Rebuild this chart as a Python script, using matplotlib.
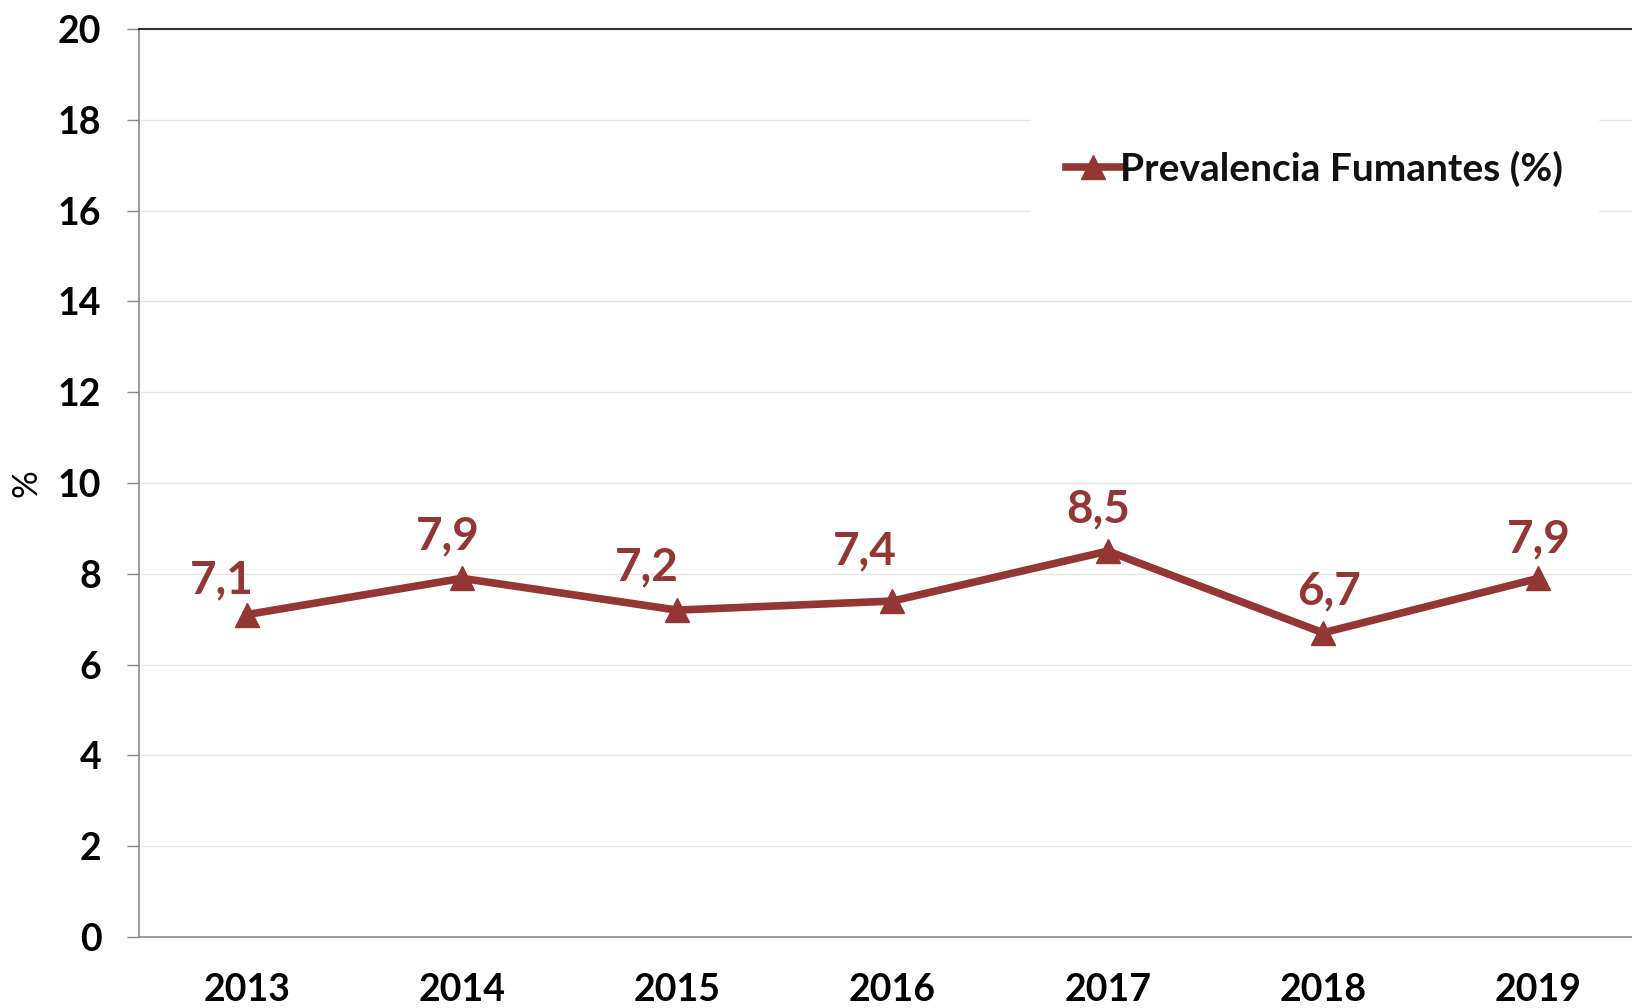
import matplotlib
matplotlib.use("Agg")
from matplotlib import pyplot as plt

years = ['2013', '2014', '2015', '2016', '2017', '2018', '2019']
prevalence = [7.1, 7.9, 7.2, 7.4, 8.5, 6.7, 7.9]
yticks = [0, 2, 4, 6, 8, 10, 12, 14, 16, 18, 20]

# label nudges in points (dx, dy), hand-placed like the original
label_offsets = [(-18, 25), (-10, 30), (-22, 31), (-20, 36), (-7, 30), (4, 30), (0, 28)]

red = '#943634'
plt.rcParams['font.family'] = ['Lato', 'DejaVu Sans']

fig = plt.figure(figsize=(16.33, 10.08), dpi=100)
ax = fig.add_axes([139 / 1633, 71 / 1008, 1507 / 1633, 908 / 1008])

x = list(range(len(years)))
ax.plot(x, prevalence, color=red, linewidth=5.5, marker='^', markersize=17,
        markeredgecolor=red, label='Prevalencia Fumantes (%)', zorder=3)

for xi, v, (dx, dy) in zip(x, prevalence, label_offsets):
    ax.annotate(f'{v:.1f}'.replace('.', ','), (xi, v), xytext=(dx, dy),
                textcoords='offset points', ha='center', va='center',
                color=red, fontsize=33, fontweight='bold')

ax.set_xlim(-0.5, 6.5)
ax.set_ylim(0, 20)
ax.set_xticks(x)
ax.set_xticklabels(years)
ax.set_yticks(yticks)
ax.tick_params(axis='x', length=0, pad=26, labelsize=27)
ax.tick_params(axis='y', length=9, width=1, color='#888888', pad=18, labelsize=27)
for lab in ax.get_xticklabels() + ax.get_yticklabels():
    lab.set_fontweight('bold')

ax.grid(axis='y', color='#e6e6e6', linewidth=1)
ax.set_axisbelow(True)
for side in ['left', 'bottom']:
    ax.spines[side].set_color('#8c8c8c')
    ax.spines[side].set_linewidth(1.2)
ax.spines['top'].set_color('#333333')
ax.spines['top'].set_linewidth(1.5)
ax.spines['right'].set_visible(False)

ax.set_ylabel('%', fontsize=25)
ax.yaxis.set_label_coords(-0.064, 0.5)

leg = ax.legend(loc='center', bbox_to_anchor=(0.78, 0.846),
                frameon=True, handlelength=1.4, handletextpad=0.0,
                borderpad=0.9, prop={'weight': 'bold', 'size': 28})
leg.get_frame().set_edgecolor('white')
leg.get_frame().set_facecolor('white')
leg.get_frame().set_alpha(1)
leg.get_frame().set_boxstyle('square', pad=0)
for t in leg.get_texts():
    t.set_color('#111111')

fig.savefig('out.png', dpi=100)
